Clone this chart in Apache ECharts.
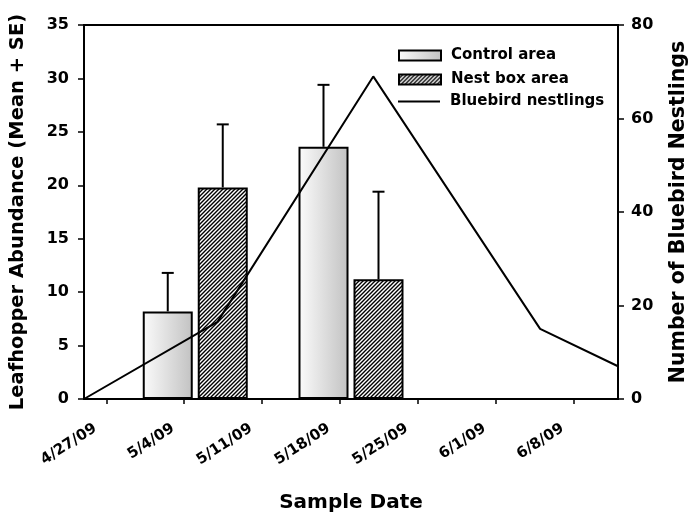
<!DOCTYPE html>
<html>
<head>
<meta charset="utf-8">
<style>
  html, body { margin: 0; padding: 0; background: #fff; }
  #chart { width: 692px; height: 513px; }
</style>
<script src="https://cdn.jsdelivr.net/npm/echarts@6/dist/echarts.min.js"></script>
</head>
<body>
<div id="chart"></div>
<script>
// x axis tick labels (weekly)
const tickLabels = ['4/27/09', '5/4/09', '5/11/09', '5/18/09', '5/25/09', '6/1/09', '6/8/09']
// leafhopper samples
const sampleDates = ['5/5/09', '5/19/09']
const controlMean = [8.2, 23.6]
const controlTop = [11.8, 29.4]   // mean + SE
const nestMean = [19.8, 11.2]
const nestTop = [25.7, 19.4]
// bluebird nestlings
const nestlingDates = ['4/25/09', '5/7/09', '5/21/09', '6/5/09', '6/12/09']
const nestlings = [0, 16.5, 69, 15, 7]

const xMin = '4/25/09'
const xMax = '6/12/09'

function toTime(s) {
  let p = s.split('/').map(Number)
  return Date.UTC(2000 + p[2], p[0] - 1, p[1])
}
const tickVals = tickLabels.map(toTime)
const labelOf = {}
tickLabels.forEach((t, i) => { labelOf[tickVals[i]] = t })

const FONT = 'DejaVu Sans'
const barW = 50
const gap = 5
const shift = (barW + gap) / 2

// hatch pattern for nest box bars
let hatch = document.createElement('canvas')
hatch.width = 4
hatch.height = 4
let ctx = hatch.getContext('2d')
ctx.fillStyle = '#fff'
ctx.fillRect(0, 0, 4, 4)
ctx.strokeStyle = '#000'
ctx.lineWidth = 1.4
ctx.beginPath()
ctx.moveTo(-1, 5); ctx.lineTo(5, -1)
ctx.moveTo(-1, 1); ctx.lineTo(1, -1)
ctx.moveTo(3, 5); ctx.lineTo(5, 3)
ctx.stroke()

const controlFill = {
  type: 'linear', x: 0, y: 0, x2: 1, y2: 0,
  colorStops: [
    { offset: 0, color: '#fbfbfb' },
    { offset: 1, color: '#c2c2c2' },
  ],
}

function errorBars(dx) {
  return function (params, api) {
    let x = api.value(0)
    let p0 = api.coord([x, api.value(1)])
    let p1 = api.coord([x, api.value(2)])
    let cx = p0[0] + dx
    let st = { stroke: '#000', lineWidth: 2 }
    return {
      type: 'group',
      children: [
        { type: 'line', shape: { x1: cx, y1: p0[1], x2: cx, y2: p1[1] }, style: st },
        { type: 'line', shape: { x1: cx - 6, y1: p1[1], x2: cx + 6, y2: p1[1] }, style: st },
      ],
    }
  }
}

const legendText = { fontFamily: FONT, fontWeight: 'bold', fontSize: 15, color: '#000', padding: [0, 0, 0, 5] }
const nameText = { fontFamily: FONT, fontWeight: 'bold', color: '#000' }
const tickText = { fontFamily: FONT, fontWeight: 'bold', fontSize: 16, color: '#000' }

let mycharts = echarts.init(document.getElementById('chart'))
mycharts.setOption({
  animation: false,
  textStyle: { fontFamily: FONT },
  grid: {
    left: 84, right: 74, top: 25, bottom: 114,
    outerBoundsMode: 'none',
    containLabel: false,
    show: true, borderColor: '#000', borderWidth: 2,
  },
  legend: [
    {
      orient: 'vertical',
      left: 398, top: 48, padding: 0,
      itemWidth: 42, itemHeight: 10, itemGap: 9,
      icon: 'rect',
      textStyle: legendText,
      data: ['Control area', 'Nest box area'],
    },
    {
      orient: 'vertical',
      left: 398, top: 94, padding: 0,
      itemWidth: 42, itemHeight: 2,
      icon: 'rect',
      textStyle: legendText,
      data: ['Bluebird nestlings'],
    },
  ],
  xAxis: {
    type: 'value',
    min: toTime(xMin), max: toTime(xMax),
    name: 'Sample Date',
    nameLocation: 'middle',
    nameGap: 94,
    nameTextStyle: Object.assign({ fontSize: 20 }, nameText),
    splitLine: { show: false },
    axisLine: { lineStyle: { color: '#000', width: 2 } },
    axisTick: { customValues: tickVals, length: 5, lineStyle: { color: '#000', width: 1.5 } },
    axisLabel: Object.assign({
      customValues: tickVals,
      rotate: 33,
      margin: 21,
      padding: [0, 13, 0, 0],
      formatter: v => labelOf[v] || '',
    }, tickText, { fontSize: 15 }),
  },
  yAxis: [
    {
      type: 'value', min: 0, max: 35, interval: 5,
      name: 'Leafhopper Abundance (Mean + SE)',
      nameLocation: 'middle', nameGap: 56, nameRotate: 90,
      nameTextStyle: Object.assign({ fontSize: 19.5 }, nameText),
      splitLine: { show: false },
      axisLine: { show: true, lineStyle: { color: '#000', width: 2 } },
      axisTick: { show: true, length: 6, lineStyle: { color: '#000', width: 1.5 } },
      axisLabel: Object.assign({ margin: 15 }, tickText),
    },
    {
      type: 'value', min: 0, max: 80, interval: 20,
      position: 'right',
      name: 'Number of Bluebird Nestlings',
      nameLocation: 'middle', nameGap: 50, nameRotate: 90,
      nameTextStyle: Object.assign({ fontSize: 20.5 }, nameText),
      splitLine: { show: false },
      axisLine: { show: true, lineStyle: { color: '#000', width: 2 } },
      axisTick: { show: true, length: 6, lineStyle: { color: '#000', width: 1.5 } },
      axisLabel: Object.assign({ margin: 13 }, tickText),
    },
  ],
  series: [
    {
      name: 'Control area',
      type: 'bar',
      barWidth: barW,
      barGap: (gap / barW * 100) + '%',
      data: sampleDates.map((d, i) => [toTime(d), controlMean[i]]),
      itemStyle: { color: controlFill, borderColor: '#000', borderWidth: 2 },
      z: 2,
    },
    {
      name: 'Nest box area',
      type: 'bar',
      barWidth: barW,
      data: sampleDates.map((d, i) => [toTime(d), nestMean[i]]),
      itemStyle: { color: { image: hatch, repeat: 'repeat' }, borderColor: '#000', borderWidth: 2 },
      z: 2,
    },
    {
      type: 'custom',
      renderItem: errorBars(-shift),
      data: sampleDates.map((d, i) => [toTime(d), controlMean[i], controlTop[i]]),
      encode: { x: 0, y: [1, 2] },
      z: 3,
    },
    {
      type: 'custom',
      renderItem: errorBars(shift),
      data: sampleDates.map((d, i) => [toTime(d), nestMean[i], nestTop[i]]),
      encode: { x: 0, y: [1, 2] },
      z: 3,
    },
    {
      name: 'Bluebird nestlings',
      type: 'line',
      yAxisIndex: 1,
      symbol: 'none',
      data: nestlingDates.map((d, i) => [toTime(d), nestlings[i]]),
      lineStyle: { color: '#000', width: 2 },
      itemStyle: { color: '#000' },
      z: 4,
    },
  ],
})
</script>
</body>
</html>
